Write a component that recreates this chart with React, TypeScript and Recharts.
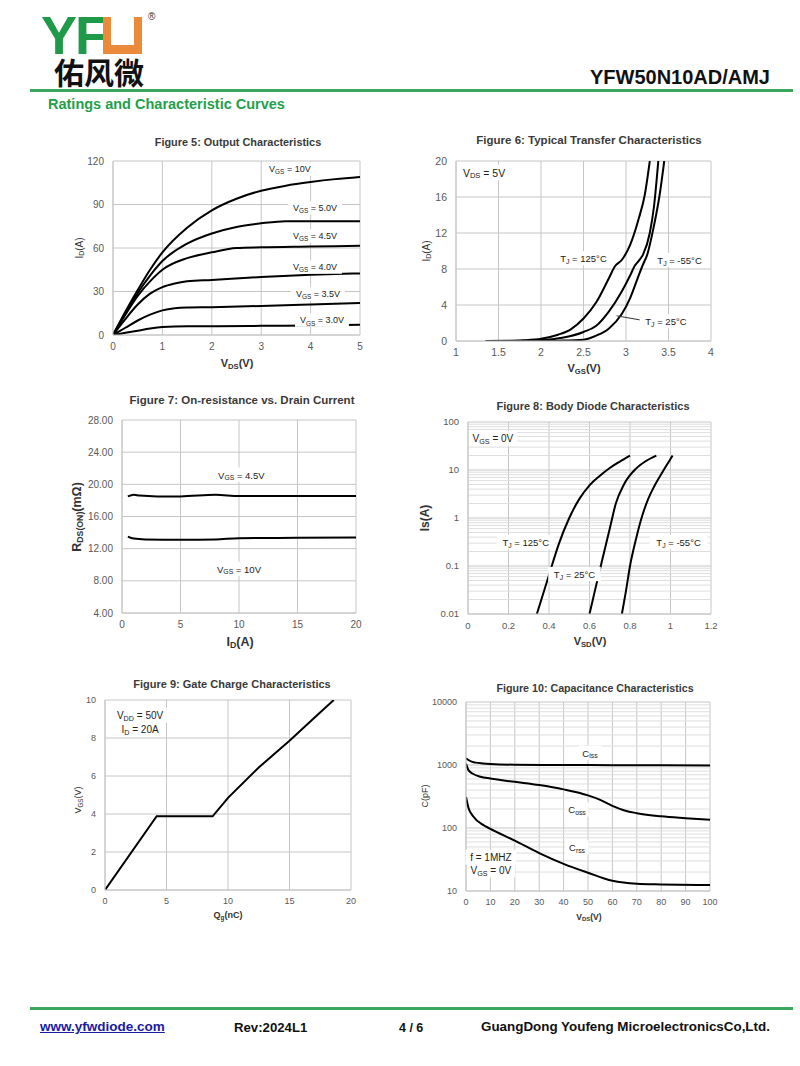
import React from 'react';
import { LineChart, Line, XAxis, YAxis, CartesianGrid, ReferenceDot, ReferenceLine } from 'recharts';

type Pt = [number, number];

const FONT = '"Liberation Sans", Arial, sans-serif';
const GREEN = '#22a04b';
const GRID = '#c6c6c6';
const MINOR = '#dedede';
const TICK = '#595959';

// Figure 5: output characteristics (VDS, ID)
const f5Vgs10: Pt[] = [[0, 0], [0.25, 16], [0.5, 31], [0.75, 45], [1, 57], [1.5, 74], [2, 86], [2.5, 94], [3, 99.5], [3.5, 103], [4, 105.5], [4.5, 107.5], [5, 109]];
const f5Vgs50: Pt[] = [[0, 0], [0.25, 15], [0.5, 29], [0.75, 41], [1, 51], [1.5, 63], [2, 70], [2.5, 74.5], [3, 77], [3.5, 78.5], [4, 78.5], [5, 78.5]];
const f5Vgs45: Pt[] = [[0, 0], [0.25, 14], [0.5, 27], [0.75, 37], [1, 45], [1.5, 53], [2, 57], [2.5, 60], [3, 60.5], [4, 61], [5, 61.5]];
const f5Vgs40: Pt[] = [[0, 0], [0.25, 11], [0.5, 21], [0.75, 28.5], [1, 33], [1.25, 35.5], [1.5, 37], [2, 38], [3, 40], [4, 41.5], [5, 42.5]];
const f5Vgs35: Pt[] = [[0, 0], [0.25, 5], [0.5, 10], [0.75, 14], [1, 17], [1.25, 18.5], [1.5, 19], [2, 19.2], [3, 20], [4, 21], [5, 22]];
const f5Vgs30: Pt[] = [[0, 0], [0.25, 1.5], [0.5, 3], [0.75, 4.5], [1, 5.5], [1.5, 6], [2, 6], [3, 6.3], [4, 6.6], [5, 7]];
const f5XTicks = [0, 1, 2, 3, 4, 5];
const f5YTicks = [0, 30, 60, 90, 120];

// Figure 6: transfer characteristics (VGS, ID)
const f6Tj125: Pt[] = [[1.35, 0], [1.6, 0.02], [1.8, 0.08], [2, 0.25], [2.2, 0.7], [2.35, 1.3], [2.5, 2.5], [2.65, 4.3], [2.8, 7], [2.87, 8.3], [2.95, 9], [3.05, 10.7], [3.15, 13.6], [3.22, 16.2], [3.28, 20]];
const f6Tj25: Pt[] = [[1.35, 0], [1.8, 0.02], [2, 0.1], [2.25, 0.35], [2.5, 1], [2.65, 1.7], [2.8, 3.3], [2.95, 5.5], [3.05, 7.3], [3.1, 8.3], [3.15, 8.9], [3.2, 9.6], [3.28, 12], [3.33, 15], [3.38, 20]];
const f6TjM55: Pt[] = [[1.35, 0], [2, 0.01], [2.2, 0.04], [2.5, 0.15], [2.65, 0.6], [2.8, 1.4], [2.95, 3], [3.05, 4.8], [3.15, 7.3], [3.2, 8.5], [3.25, 9.6], [3.32, 12.4], [3.4, 16.5], [3.45, 20]];
const f6XTicks = [1, 1.5, 2, 2.5, 3, 3.5, 4];
const f6YTicks = [0, 4, 8, 12, 16, 20];

// Figure 7: on-resistance vs drain current (ID, RDS(on))
const f7Vgs45: Pt[] = [[0.5, 18.5], [1, 18.7], [1.5, 18.6], [3, 18.5], [5, 18.5], [8, 18.7], [10, 18.55], [15, 18.55], [20, 18.55]];
const f7Vgs10: Pt[] = [[0.5, 13.5], [1, 13.25], [2, 13.15], [5, 13.1], [8, 13.15], [10, 13.3], [15, 13.35], [20, 13.4]];
const f7XTicks = [0, 5, 10, 15, 20];
const f7YTicks = [4, 8, 12, 16, 20, 24, 28];

// Figure 8: body diode (VSD, IS) log
const f8Tj125: Pt[] = [[0.34, 0.01], [0.4, 0.065], [0.45, 0.3], [0.5, 1], [0.55, 2.5], [0.6, 4.8], [0.65, 7.5], [0.7, 11], [0.75, 15], [0.8, 20]];
const f8Tj25: Pt[] = [[0.6, 0.01], [0.63, 0.035], [0.66, 0.12], [0.7, 0.6], [0.73, 2], [0.77, 5], [0.83, 10.7], [0.88, 15.5], [0.93, 20]];
const f8TjM55: Pt[] = [[0.76, 0.01], [0.78, 0.03], [0.8, 0.1], [0.83, 0.37], [0.86, 1.1], [0.89, 2.5], [0.92, 4.6], [0.96, 9], [1, 17], [1.01, 20]];
const f8XTicks = [0, 0.2, 0.4, 0.6, 0.8, 1, 1.2];
const f8YTicks = [0.01, 0.1, 1, 10, 100];

// Figure 9: gate charge (Qg, VGS)
const f9Vgs: Pt[] = [[0, 0], [4.2, 3.88], [8.75, 3.88], [10, 4.85], [12.5, 6.45], [15, 7.85], [17, 9.05], [18.6, 10]];
const f9XTicks = [0, 5, 10, 15, 20];
const f9YTicks = [0, 2, 4, 6, 8, 10];

// Figure 10: capacitance (VDS, C) log
const f10Ciss: Pt[] = [[0, 1280], [1, 1200], [2, 1140], [4, 1090], [7, 1060], [10, 1040], [20, 1010], [40, 1000], [60, 995], [100, 985]];
const f10Coss: Pt[] = [[0, 1050], [1, 830], [3, 720], [6, 650], [10, 610], [20, 540], [30, 480], [40, 410], [50, 330], [55, 280], [60, 225], [65, 190], [70, 172], [80, 153], [90, 143], [100, 135]];
const f10Crss: Pt[] = [[0, 310], [1, 210], [3, 152], [7, 112], [10, 97], [20, 63], [30, 40], [40, 27], [50, 19.5], [60, 14.5], [70, 13], [80, 12.7], [100, 12.4]];
const f10XTicks = [0, 10, 20, 30, 40, 50, 60, 70, 80, 90, 100];
const f10YTicks = [10, 100, 1000, 10000];

const minorLog = (lo: number, hi: number) => {
  const out: number[] = [];
  for (let d = lo; d < hi; d *= 10) for (let k = 2; k <= 9; k++) out.push(d * k);
  return out;
};

interface Tag { x: number; y: number; main: string; sub?: string; rest?: string; anchor?: 'start' | 'middle'; size?: number; }

const TagShape = ({ cx, cy, tag }: { cx: number; cy: number; tag: Tag }) => {
  const s = tag.size ?? 9.5;
  const w = ((tag.main.length + (tag.rest ?? '').length) * 0.56 + (tag.sub ?? '').length * 0.42) * s + 6;
  const left = tag.anchor === 'start' ? cx - 3 : cx - w / 2;
  return (
    <g>
      <rect x={left} y={cy - s * 0.75} width={w} height={s * 1.5} fill="#fff" />
      <text x={cx} y={cy} textAnchor={tag.anchor ?? 'middle'} dominantBaseline="central" fontSize={s} fill="#222" fontFamily={FONT}>
        <tspan>{tag.main}</tspan>
        {tag.sub && <tspan fontSize={s * 0.72} dy={2.5}>{tag.sub}</tspan>}
        {tag.rest && <tspan dy={tag.sub ? -2.5 : 0}>{tag.rest}</tspan>}
      </text>
    </g>
  );
};

interface PanelProps {
  box: [number, number, number, number];
  xDomain: [number, number]; xTicks: number[];
  yDomain: [number, number]; yTicks: number[];
  yLog?: boolean; yFmt?: (v: number) => string; tickFont?: number;
  series: Pt[][]; linear?: boolean; tags: Tag[]; minorY?: number[];
  leader?: [Pt, Pt];
}

const YW = 50, TOP = 10, RIGHT = 14, XH = 24;

const Panel = ({ box, xDomain, xTicks, yDomain, yTicks, yLog, yFmt, tickFont = 10, series, linear, tags, minorY, leader }: PanelProps) => {
  const [x0, y0, x1, y1] = box;
  const tick = { fill: TICK, fontSize: tickFont, fontFamily: FONT };
  return (
    <div style={{ position: 'absolute', left: x0 - YW, top: y0 - TOP }}>
      <LineChart width={x1 - x0 + YW + RIGHT} height={y1 - y0 + TOP + XH} margin={{ top: TOP, right: RIGHT, bottom: 0, left: 0 }}>
        <CartesianGrid stroke={GRID} strokeWidth={1} />
        {(minorY ?? []).map((v) => (
          <ReferenceLine key={'m' + v} y={v} stroke={MINOR} strokeWidth={1} />
        ))}
        <XAxis type="number" dataKey="x" domain={xDomain} ticks={xTicks} allowDataOverflow height={XH}
          axisLine={{ stroke: GRID }} tickLine={false} tickSize={0} tickMargin={8} tick={tick} interval={0} />
        <YAxis type="number" dataKey="y" scale={yLog ? 'log' : 'linear'} domain={yDomain} ticks={yTicks} allowDataOverflow width={YW}
          axisLine={{ stroke: GRID }} tickLine={false} tickSize={0} tickMargin={9} tick={tick} interval={0}
          tickFormatter={yFmt ?? ((v: number) => String(v))} />
        {series.map((s, i) => (
          <Line key={i} data={s.map(([x, y]) => ({ x, y }))} dataKey="y" type={linear ? 'linear' : 'monotone'}
            stroke="#000" strokeWidth={2} dot={false} activeDot={false} isAnimationActive={false} />
        ))}
        {leader && (
          <ReferenceLine segment={[{ x: leader[0][0], y: leader[0][1] }, { x: leader[1][0], y: leader[1][1] }]} stroke="#333" strokeWidth={1} />
        )}
        {tags.map((t, i) => (
          <ReferenceDot key={'t' + i} x={t.x} y={t.y} r={0} shape={(p: any) => <TagShape cx={p.cx} cy={p.cy} tag={t} />} />
        ))}
      </LineChart>
    </div>
  );
};

const Txt = ({ x, y, size, bold, color = '#333', rotate, children }: { x: number; y: number; size: number; bold?: boolean; color?: string; rotate?: boolean; children: React.ReactNode }) => (
  <div style={{
    position: 'absolute', left: x, top: y, transform: `translate(-50%, -50%)${rotate ? ' rotate(-90deg)' : ''}`,
    fontSize: size, fontWeight: bold ? 700 : 400, color, whiteSpace: 'nowrap', fontFamily: FONT, lineHeight: 1,
  }}>{children}</div>
);

const sub = (s: string) => <sub style={{ fontSize: '70%', verticalAlign: '-0.25em' }}>{s}</sub>;

export default function App() {
  return (
    <div style={{ position: 'absolute', left: 0, top: 0, width: 800, height: 1066, background: '#fff', overflow: 'hidden', fontFamily: FONT }}>
      {/* header logo */}
      <div style={{ position: 'absolute', left: 41, top: 15, fontSize: 54, fontWeight: 700, color: '#1f9a48', fontFamily: FONT, lineHeight: '40px', letterSpacing: -2 }}>YF</div>
      <div style={{ position: 'absolute', left: 103, top: 17, width: 39, height: 37, background: '#ec8a3c' }} />
      <div style={{ position: 'absolute', left: 111, top: 17, width: 23, height: 28, background: '#fff' }} />
      <div style={{ position: 'absolute', left: 148, top: 11, fontSize: 10, color: '#333' }}>®</div>
      <div style={{ position: 'absolute', left: 54, top: 56, fontSize: 30, fontWeight: 700, color: '#111', fontFamily: '"Noto Sans CJK SC", sans-serif', lineHeight: 1 }}>佑风微</div>
      <div style={{ position: 'absolute', right: 30, top: 67, fontSize: 20, fontWeight: 700, color: '#111', lineHeight: 1 }}>YFW50N10AD/AMJ</div>
      <div style={{ position: 'absolute', left: 30, top: 89, width: 763, height: 2.5, background: '#3aa75c' }} />
      <div style={{ position: 'absolute', left: 48, top: 97, fontSize: 14.5, fontWeight: 700, color: GREEN, lineHeight: 1 }}>Ratings and Characteristic Curves</div>

      {/* Figure 5 */}
      <Txt x={238} y={142} size={10.9} bold color="#3a3a3a">Figure 5: Output Characteristics</Txt>
      <Txt x={80} y={248} size={10} rotate>I{sub('D')}(A)</Txt>
      <Txt x={237} y={364} size={11} bold>V{sub('DS')}(V)</Txt>
      <Panel box={[113, 161, 360, 335]} xDomain={[0, 5]} xTicks={f5XTicks} yDomain={[0, 120]} yTicks={f5YTicks}
        series={[f5Vgs10, f5Vgs50, f5Vgs45, f5Vgs40, f5Vgs35, f5Vgs30]}
        tags={[
          { x: 3.58, y: 114.5, main: 'V', sub: 'GS', rest: ' = 10V', size: 9 },
          { x: 4.09, y: 87.6, main: 'V', sub: 'GS', rest: ' = 5.0V', size: 9 },
          { x: 4.09, y: 68.3, main: 'V', sub: 'GS', rest: ' = 4.5V', size: 9 },
          { x: 4.09, y: 46.9, main: 'V', sub: 'GS', rest: ' = 4.0V', size: 9 },
          { x: 4.15, y: 28.3, main: 'V', sub: 'GS', rest: ' = 3.5V', size: 9 },
          { x: 4.23, y: 10.3, main: 'V', sub: 'GS', rest: ' = 3.0V', size: 9 },
        ]} />

      {/* Figure 6 */}
      <Txt x={589} y={141} size={11.5} bold color="#3a3a3a">Figure 6: Typical Transfer Characteristics</Txt>
      <Txt x={427} y={251} size={10} rotate>I{sub('D')}(A)</Txt>
      <Txt x={584} y={369} size={11} bold>V{sub('GS')}(V)</Txt>
      <Panel box={[456, 161, 711, 341]} xDomain={[1, 4]} xTicks={f6XTicks} yDomain={[0, 20]} yTicks={f6YTicks} tickFont={10.5}
        series={[f6Tj125, f6Tj25, f6TjM55]}
        leader={[[2.89, 2.8], [3.25, 2.2]]}
        tags={[
          { x: 1.33, y: 18.7, main: 'V', sub: 'DS', rest: ' = 5V', size: 10.5 },
          { x: 2.5, y: 9.2, main: 'T', sub: 'J', rest: ' = 125°C', size: 9.5 },
          { x: 3.63, y: 9, main: 'T', sub: 'J', rest: ' = -55°C', size: 9.5 },
          { x: 3.47, y: 2.2, main: 'T', sub: 'J', rest: ' = 25°C', size: 9.5 },
        ]} />

      {/* Figure 7 */}
      <Txt x={242} y={401} size={11.5} bold color="#3a3a3a">Figure 7: On-resistance vs. Drain Current</Txt>
      <Txt x={78} y={517} size={12.5} bold rotate>R{sub('DS(ON)')}(mΩ)</Txt>
      <Txt x={240} y={643} size={12.5} bold>I{sub('D')}(A)</Txt>
      <Panel box={[122, 420, 356, 613]} xDomain={[0, 20]} xTicks={f7XTicks} yDomain={[4, 28]} yTicks={f7YTicks} tickFont={10}
        yFmt={(v) => v.toFixed(2)}
        series={[f7Vgs45, f7Vgs10]}
        tags={[
          { x: 10.2, y: 21.2, main: 'V', sub: 'GS', rest: ' = 4.5V', size: 9.5 },
          { x: 10, y: 9.5, main: 'V', sub: 'GS', rest: ' = 10V', size: 9.5 },
        ]} />

      {/* Figure 8 */}
      <Txt x={593} y={406} size={11} bold color="#3a3a3a">Figure 8: Body Diode Characteristics</Txt>
      <Txt x={425} y={518} size={12} bold rotate>Is(A)</Txt>
      <Txt x={590} y={642} size={11} bold>V{sub('SD')}(V)</Txt>
      <Panel box={[468, 422, 711, 614]} xDomain={[0, 1.2]} xTicks={f8XTicks} yDomain={[0.01, 100]} yTicks={f8YTicks} yLog tickFont={9.5}
        minorY={minorLog(0.01, 100)}
        series={[f8Tj125, f8Tj25, f8TjM55]}
        tags={[
          { x: 0.123, y: 46, main: 'V', sub: 'GS', rest: ' = 0V', size: 10 },
          { x: 0.285, y: 0.316, main: 'T', sub: 'J', rest: ' = 125°C', size: 9.5 },
          { x: 0.526, y: 0.068, main: 'T', sub: 'J', rest: ' = 25°C', size: 9.5 },
          { x: 1.04, y: 0.316, main: 'T', sub: 'J', rest: ' = -55°C', size: 9.5 },
        ]} />

      {/* Figure 9 */}
      <Txt x={232} y={684} size={11} bold color="#3a3a3a">Figure 9: Gate Charge Characteristics</Txt>
      <Txt x={79} y={800} size={9} rotate>V{sub('GS')}(V)</Txt>
      <Txt x={228} y={916} size={9} bold>Q{sub('g')}(nC)</Txt>
      <Panel box={[105, 700, 351, 890]} xDomain={[0, 20]} xTicks={f9XTicks} yDomain={[0, 10]} yTicks={f9YTicks} tickFont={9}
        series={[f9Vgs]} linear
        tags={[
          { x: 2.85, y: 9.2, main: 'V', sub: 'DD', rest: ' = 50V', size: 10 },
          { x: 2.85, y: 8.47, main: 'I', sub: 'D', rest: ' = 20A', size: 10 },
        ]} />

      {/* Figure 10 */}
      <Txt x={595} y={688} size={10.7} bold color="#3a3a3a">Figure 10: Capacitance Characteristics</Txt>
      <Txt x={425} y={796} size={9} rotate>C(pF)</Txt>
      <Txt x={589} y={918} size={8.5} bold>V{sub('DS')}(V)</Txt>
      <Panel box={[466, 702, 710, 891]} xDomain={[0, 100]} xTicks={f10XTicks} yDomain={[10, 10000]} yTicks={f10YTicks} yLog tickFont={9}
        minorY={minorLog(10, 10000)}
        series={[f10Ciss, f10Coss, f10Crss]}
        tags={[
          { x: 50.8, y: 1563, main: 'C', sub: 'iss', size: 9.5 },
          { x: 45.5, y: 197, main: 'C', sub: 'oss', size: 9.5 },
          { x: 45.5, y: 49.4, main: 'C', sub: 'rss', size: 9.5 },
          { x: 10.2, y: 34.4, main: 'f = 1MHZ', size: 10 },
          { x: 10.2, y: 21.4, main: 'V', sub: 'GS', rest: ' = 0V', size: 10 },
        ]} />

      {/* footer */}
      <div style={{ position: 'absolute', left: 30, top: 1007, width: 763, height: 2.5, background: '#3aa75c' }} />
      <div style={{ position: 'absolute', left: 40, top: 1020, fontSize: 13.5, fontWeight: 700, color: '#1a1aa6', textDecoration: 'underline', lineHeight: 1 }}>www.yfwdiode.com</div>
      <div style={{ position: 'absolute', left: 234, top: 1021, fontSize: 13.2, fontWeight: 700, color: '#111', lineHeight: 1 }}>Rev:2024L1</div>
      <div style={{ position: 'absolute', left: 399, top: 1022, fontSize: 12.5, fontWeight: 700, color: '#111', lineHeight: 1 }}>4 / 6</div>
      <div style={{ position: 'absolute', left: 481, top: 1020, fontSize: 13.4, fontWeight: 700, color: '#111', lineHeight: 1 }}>GuangDong Youfeng MicroelectronicsCo,Ltd.</div>
    </div>
  );
}
